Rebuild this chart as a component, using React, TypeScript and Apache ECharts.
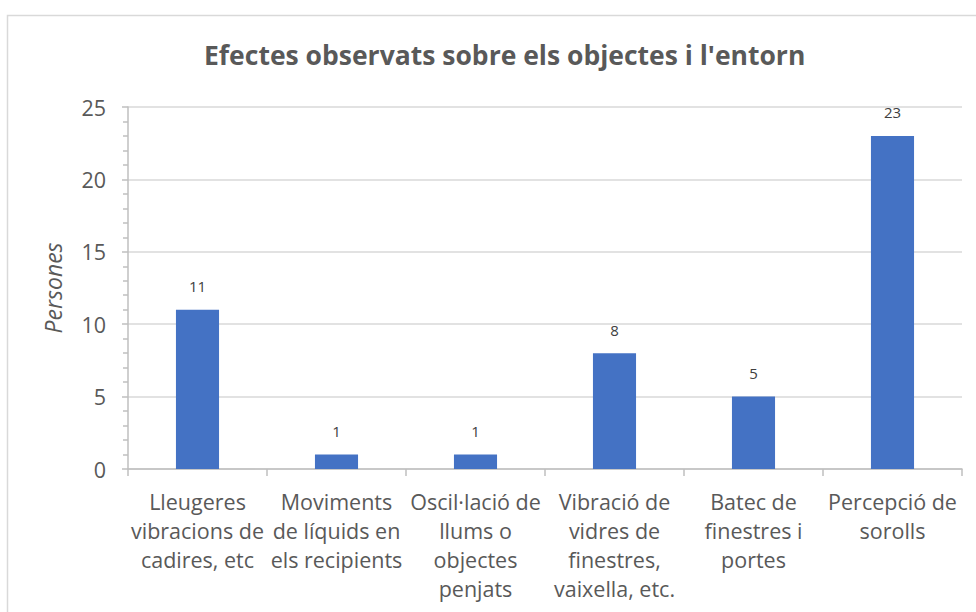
import React, { useEffect, useRef } from "react";
import * as echarts from "echarts";

const TITLE = "Efectes observats sobre els objectes i l'entorn";
const Y_NAME = "Persones";
const CATEGORIES = [
  "Lleugeres\nvibracions de\ncadires, etc",
  "Moviments\nde líquids en\nels recipients",
  "Oscil·lació de\nllums o\nobjectes\npenjats",
  "Vibració de\nvidres de\nfinestres,\nvaixella, etc.",
  "Batec de\nfinestres i\nportes",
  "Percepció de\nsorolls",
];
const VALUES = [11, 1, 1, 8, 5, 23];

const FONT = "'Open Sans', sans-serif";

export default function App() {
  const ref = useRef<HTMLDivElement>(null);
  useEffect(() => {
    if (!ref.current) return;
    const chart = echarts.init(ref.current, null, { renderer: "svg" });
    chart.setOption({
      animation: false,
      backgroundColor: "#ffffff",
      textStyle: { fontFamily: FONT },
      title: {
        text: TITLE,
        left: 199,
        top: 36,
        textStyle: { fontFamily: FONT, fontSize: 26.5, fontWeight: "bold", color: "#595959" },
      },
      graphic: [
        {
          type: "polyline",
          shape: { points: [[7.5, 612], [7.5, 15.5], [976, 15.5]] },
          style: { stroke: "#d9d9d9", lineWidth: 1.5, fill: "none" },
          silent: true,
        },
      ],
      grid: { left: 128, right: 14, top: 107, bottom: 143, containLabel: false },
      xAxis: {
        type: "category",
        data: CATEGORIES,
        axisLine: { show: true, lineStyle: { color: "#bfbfbf", width: 1.5 } },
        axisTick: { show: true, length: 7, lineStyle: { color: "#bfbfbf", width: 1.5 } },
        axisLabel: {
          interval: 0,
          margin: 18,
          fontFamily: FONT,
          fontSize: 21.5,
          lineHeight: 29,
          color: "#595959",
          align: "center",
        },
      },
      yAxis: {
        type: "value",
        min: 0,
        max: 25,
        interval: 5,
        name: Y_NAME,
        nameLocation: "middle",
        nameGap: 64,
        nameTextStyle: { fontFamily: FONT, fontSize: 23, fontStyle: "italic", color: "#595959" },
        axisLine: { show: true, lineStyle: { color: "#bfbfbf", width: 1.5 } },
        axisTick: { show: true, length: 6, lineStyle: { color: "#bfbfbf", width: 1.5 } },
        minorTick: { show: true, splitNumber: 5, length: 5, lineStyle: { color: "#bfbfbf", width: 1.5 } },
        splitLine: { show: true, lineStyle: { color: "#d9d9d9", width: 1.5 } },
        axisLabel: { margin: 22, fontFamily: FONT, fontSize: 21.5, color: "#595959" },
      },
      series: [
        {
          type: "bar",
          data: VALUES,
          barWidth: "31%",
          itemStyle: { color: "#4472C4" },
          label: {
            show: true,
            position: "top",
            distance: 16,
            fontFamily: FONT,
            fontSize: 15,
            color: "#404040",
          },
        },
      ],
    });
    return () => chart.dispose();
  }, []);
  return (
    <div
      ref={ref}
      style={{ position: "absolute", left: 0, top: 0, width: 976, height: 612 }}
    />
  );
}
